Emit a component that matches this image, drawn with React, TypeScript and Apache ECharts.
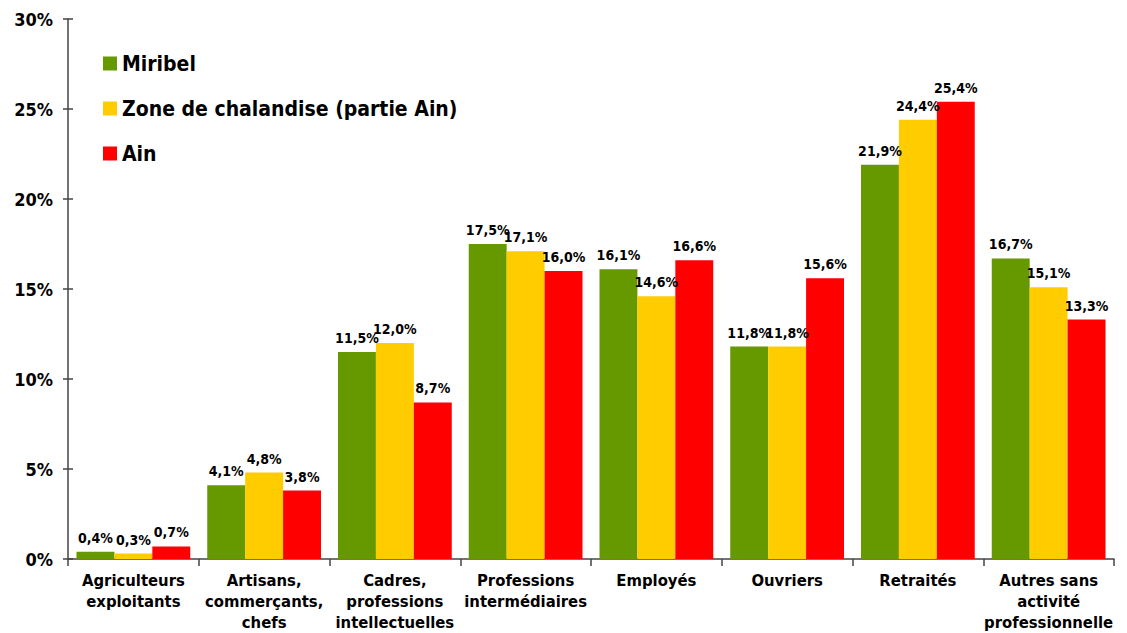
import React, { useEffect, useRef } from "react";
import * as echarts from "echarts";

const categories = [
  "Agriculteurs\nexploitants",
  "Artisans,\ncommerçants,\nchefs",
  "Cadres,\nprofessions\nintellectuelles",
  "Professions\nintermédiaires",
  "Employés",
  "Ouvriers",
  "Retraités",
  "Autres sans\nactivité\nprofessionnelle",
];
const seriesNames = ["Miribel", "Zone de chalandise (partie Ain)", "Ain"];
const miribel = [0.4, 4.1, 11.5, 17.5, 16.1, 11.8, 21.9, 16.7];
const zone = [0.3, 4.8, 12.0, 17.1, 14.6, 11.8, 24.4, 15.1];
const ain = [0.7, 3.8, 8.7, 16.0, 16.6, 15.6, 25.4, 13.3];
const colors = ["#669900", "#FFCC00", "#FF0000"];

const FONT = "DejaVu Sans Condensed";

export default function App() {
  const ref = useRef<HTMLDivElement>(null);
  useEffect(() => {
    if (!ref.current) return;
    const chart = echarts.init(ref.current, null, { renderer: "svg" });
    const fmt = (v: number) => v.toFixed(1).replace(".", ",") + "%";
    const data = [miribel, zone, ain];
    chart.setOption({
      animation: false,
      textStyle: { fontFamily: FONT },
      grid: { left: 68, right: 13, top: 19, bottom: 74 },
      legend: {
        orient: "vertical",
        left: 98,
        top: 48,
        itemWidth: 14,
        itemHeight: 14,
        itemGap: 24,
        icon: "rect",
        textStyle: { fontFamily: FONT, fontWeight: "bold", fontSize: 21, color: "#000" },
        data: seriesNames,
      },
      xAxis: {
        type: "category",
        data: categories,
        axisLine: { lineStyle: { color: "#444", width: 1.5 } },
        axisTick: { show: true, length: 7, lineStyle: { color: "#444", width: 1.5 } },
        axisLabel: {
          interval: 0,
          margin: 11,
          fontFamily: FONT,
          fontWeight: "bold",
          fontSize: 16.5,
          lineHeight: 21,
          color: "#000",
        },
      },
      yAxis: [
        {
          type: "value",
          min: 0,
          max: 30,
          interval: 5,
          axisLine: { show: true, lineStyle: { color: "#444", width: 1.5 } },
          axisTick: { show: true, length: 5, lineStyle: { color: "#444", width: 1.5 } },
          splitLine: { show: false },
          axisLabel: {
            margin: 15,
            formatter: "{value}%",
            fontFamily: FONT,
            fontWeight: "bold",
            fontSize: 18,
            color: "#000",
          },
        },
        {
          type: "value",
          position: "left",
          min: 0,
          max: 30,
          interval: 5,
          axisLine: { show: false },
          axisTick: { show: true, inside: true, length: 5, lineStyle: { color: "#444", width: 1.5 } },
          splitLine: { show: false },
          axisLabel: { show: false },
        },
      ],
      series: seriesNames.map((name, i) => ({
        name,
        type: "bar",
        data: data[i],
        barGap: "0%",
        barCategoryGap: "13%",
        itemStyle: { color: colors[i] },
        label: {
          show: true,
          position: "top",
          distance: 7,
          formatter: (p: any) => fmt(p.value),
          fontFamily: FONT,
          fontWeight: "bold",
          fontSize: 14,
          color: "#000",
        },
      })),
    });
    return () => chart.dispose();
  }, []);
  return <div ref={ref} style={{ width: 1127, height: 633, position: "absolute", left: 0, top: 0, background: "#fff" }} />;
}
